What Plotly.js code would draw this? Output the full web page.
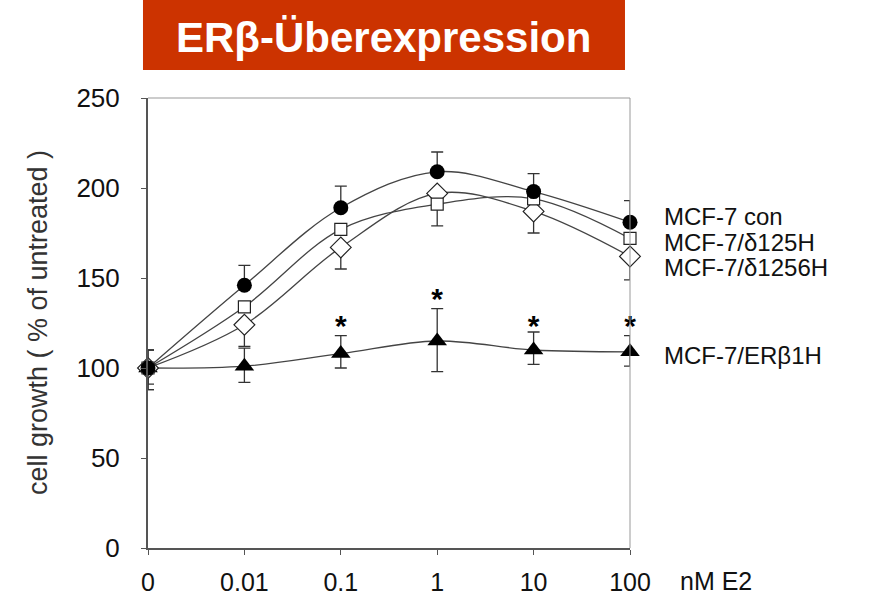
<!DOCTYPE html>
<html><head><meta charset="utf-8">
<script src="https://cdn.plot.ly/plotly-3.0.1.min.js"></script>
<style>body{margin:0;background:#fff}#c{width:873px;height:598px}</style>
</head><body><div id="c"></div>
<script>
const doseLabels = ["0", "0.01", "0.1", "1", "10", "100"];
const doseIdx = [0, 1, 2, 3, 4, 5];
const seriesNames = ["MCF-7 con", "MCF-7/\u03b4125H", "MCF-7/\u03b41256H", "MCF-7/ER\u03b21H"];
const conVals = [100, 146, 189, 209, 198, 181];
const conErrUp = [10, 11, 12, 11, 10, 12];
const d125Vals = [100, 134, 177, 191, 194, 172];
const d125ErrDown = [12, 0, 0, 12, 0, 0];
const d1256Vals = [100, 124, 167, 197, 187, 162];
const d1256ErrDown = [9, 12, 12, 0, 12, 13];
const erbVals = [100, 101, 108, 115, 110, 109];
const erbErrUp = [10, 10, 10, 18, 10, 9];
const erbErrDown = [12, 9, 8, 17, 8, 8];
const sigIdx = [2, 3, 4, 5];
const sigY = [122, 137, 122, 122];
const labelY = [184, 170, 156, 107];

const FONT = "Liberation Sans, Arial, sans-serif";
const lineStyle = {color: "#444", width: 1.3, shape: "spline", smoothing: 1};
function errBar(up, down) {
  return {type: "data", symmetric: false, array: up, arrayminus: down,
          color: "#333", thickness: 1.3, width: 6};
}
const zeros = [0,0,0,0,0,0];
const traces = [
  {x: doseIdx, y: erbVals, mode: "lines+markers", name: seriesNames[3], cliponaxis: false,
   line: lineStyle, marker: {symbol: "triangle-up", size: 17, color: "#000"},
   error_y: errBar(erbErrUp, erbErrDown)},
  {x: doseIdx, y: d1256Vals, mode: "lines+markers", name: seriesNames[2], cliponaxis: false,
   line: lineStyle, marker: {symbol: "diamond", size: 16, color: "#fff", line: {color: "#222", width: 1.2}},
   error_y: errBar(zeros, d1256ErrDown)},
  {x: doseIdx, y: d125Vals, mode: "lines+markers", name: seriesNames[1], cliponaxis: false,
   line: lineStyle, marker: {symbol: "square", size: 12, color: "#fff", line: {color: "#222", width: 1.2}},
   error_y: errBar(zeros, d125ErrDown)},
  {x: doseIdx, y: conVals, mode: "lines+markers", name: seriesNames[0], cliponaxis: false,
   line: lineStyle, marker: {symbol: "circle", size: 15, color: "#000"},
   error_y: errBar(conErrUp, zeros)},
  {x: sigIdx, y: sigY, mode: "text", text: sigIdx.map(() => "<b>*</b>"), cliponaxis: false,
   textfont: {family: FONT, size: 30, color: "#000"}, hoverinfo: "skip"}
];

const annotations = seriesNames.map((n, i) => ({
  text: n, xref: "paper", yref: "y", x: 1.066, y: labelY[i], xanchor: "left", yanchor: "middle",
  showarrow: false, font: {family: FONT, size: 24, color: "#111"}
}));
annotations.push({text: "nM E2", xref: "paper", yref: "paper", x: 1.0996, y: -0.074,
  xanchor: "left", yanchor: "middle", showarrow: false, font: {family: FONT, size: 25, color: "#111"}});
annotations.push({text: "cell growth ( % of untreated )", xref: "paper", yref: "paper",
  x: -0.228, y: 0.5, xanchor: "center", yanchor: "middle", textangle: -90, showarrow: false,
  font: {family: FONT, size: 27, color: "#333"}});
annotations.push({text: "<b>ER\u03b2-\u00dcberexpression</b>", xref: "paper", yref: "paper",
  x: 0.4896, y: 1.135, xanchor: "center", yanchor: "middle", showarrow: false,
  font: {family: FONT, size: 42, color: "#fff"}});

const layout = {
  width: 873, height: 598,
  margin: {l: 148, r: 243, t: 98, b: 50},
  paper_bgcolor: "#fff", plot_bgcolor: "#fff",
  showlegend: false,
  font: {family: FONT, color: "#111"},
  xaxis: {range: [0, 5], tickvals: doseIdx, ticktext: doseLabels, showgrid: false, zeroline: false,
    showline: true, linecolor: "#555", linewidth: 2, ticks: "outside", ticklen: 5, tickcolor: "#555",
    tickfont: {family: FONT, size: 25, color: "#111"}, ticklabelstandoff: 6, fixedrange: true},
  yaxis: {range: [0, 250], tickvals: [0, 50, 100, 150, 200, 250], showgrid: false, zeroline: false,
    showline: true, linecolor: "#555", linewidth: 2, ticks: "outside", ticklen: 5, tickcolor: "#555",
    tickfont: {family: FONT, size: 26, color: "#111"}, ticklabelstandoff: 16, fixedrange: true},
  shapes: [
    {type: "line", xref: "paper", yref: "paper", x0: 0, x1: 1, y0: 1, y1: 1, line: {color: "#999", width: 1}},
    {type: "line", xref: "paper", yref: "paper", x0: 1, x1: 1, y0: 0, y1: 1, line: {color: "#999", width: 1}},
    {type: "rect", xref: "paper", yref: "paper", x0: -0.0104, x1: 0.9896, y0: 1.0622, y1: 1.2178,
     fillcolor: "#CC3300", line: {width: 0}, layer: "below"}
  ],
  annotations: annotations
};
Plotly.newPlot("c", traces, layout, {staticPlot: true});
</script></body></html>
